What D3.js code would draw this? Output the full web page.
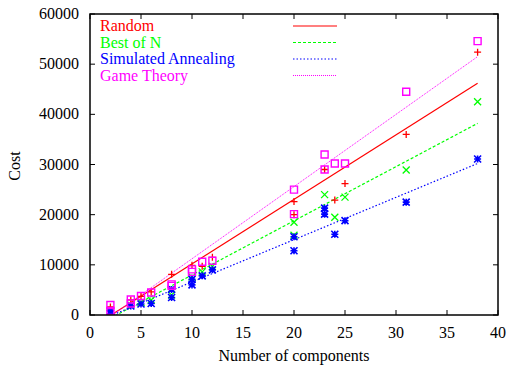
<!DOCTYPE html>
<html>
<head>
<meta charset="utf-8">
<script src="https://cdn.jsdelivr.net/npm/d3@7"></script>
<style>
  body { margin: 0; background: #fff; }
  text { font-family: "Liberation Serif", "DejaVu Serif", serif; }
</style>
</head>
<body>
<svg width="508" height="368"></svg>
<script>
var width = 508;
var height = 368;

// series names + colours (gnuplot defaults)
var seriesNames = ['Random', 'Best of N', 'Simulated Annealing', 'Game Theory'];
var seriesColors = ['#ff0000', '#00ff00', '#0000ff', '#ff00ff'];

// data
var randomX = [2, 4, 5, 6, 8, 10, 11, 12, 20, 20, 23, 24, 25, 31, 38];
var randomY = [1600, 3000, 3700, 4600, 8100, 9900, 9700, 11500, 22600, 20000, 29000, 22900, 26200, 36000, 52400];

var bestX = [2, 4, 5, 6, 8, 10, 11, 12, 20, 20, 23, 24, 25, 31, 38];
var bestY = [400, 2000, 2500, 3000, 4000, 7600, 8600, 9700, 18500, 15900, 24000, 19500, 23500, 28900, 42500];

var annealX = [2, 2, 4, 5, 6, 8, 8, 10, 10, 11, 12, 20, 20, 23, 23, 24, 25, 31, 38];
var annealY = [800, 300, 1800, 2200, 2300, 5100, 3500, 7100, 6000, 7800, 9000, 15600, 12800, 21300, 20100, 16100, 18800, 22500, 31100];

var gameX = [2, 2, 4, 4, 5, 6, 8, 8, 10, 10, 11, 12, 20, 20, 23, 23, 24, 25, 31, 38];
var gameY = [2000, 800, 3100, 2300, 3800, 4500, 6100, 5800, 9100, 8600, 10600, 10800, 25000, 20100, 32000, 29000, 30200, 30200, 44500, 54600];

// fitted lines: value at x=2 and at x=38
var fitX = [2, 38];
var randomFit = [-100, 46200];
var bestFit = [-650, 38200];
var annealFit = [-170, 30200];
var gameFit = [-300, 51500];

var xTicks = [0, 5, 10, 15, 20, 25, 30, 35, 40];
var yTicks = [0, 10000, 20000, 30000, 40000, 50000, 60000];

var series = [
  {x: randomX, y: randomY, fit: randomFit, marker: 'plus', dash: null, lw: 1.2, mw: 1.3},
  {x: bestX, y: bestY, fit: bestFit, marker: 'cross', dash: '3,2', lw: 1.2, mw: 1.3},
  {x: annealX, y: annealY, fit: annealFit, marker: 'star', dash: '1.5,2', lw: 1.2, mw: 1.6},
  {x: gameX, y: gameY, fit: gameFit, marker: 'square', dash: '1,1', lw: 1, mw: 1.4}
];

var plotL = 90, plotR = 498, plotT = 14, plotB = 315;

var x = d3.scaleLinear().domain([0, 40]).range([plotL, plotR]);
var y = d3.scaleLinear().domain([0, 60000]).range([plotB, plotT]);

var svg = d3.select('svg');

svg.append('defs').append('clipPath')
    .attr('id', 'plotclip')
  .append('rect')
    .attr('x', plotL).attr('y', plotT)
    .attr('width', plotR - plotL).attr('height', plotB - plotT);

// ticks (inside, mirrored)
var tickLen = 5;
var ticks = svg.append('g').attr('stroke', '#000').attr('stroke-width', 1);
xTicks.forEach(function(t){
  ticks.append('line').attr('x1', x(t)).attr('x2', x(t)).attr('y1', plotB).attr('y2', plotB - tickLen);
  ticks.append('line').attr('x1', x(t)).attr('x2', x(t)).attr('y1', plotT).attr('y2', plotT + tickLen);
});
yTicks.forEach(function(t){
  ticks.append('line').attr('x1', plotL).attr('x2', plotL + tickLen).attr('y1', y(t)).attr('y2', y(t));
  ticks.append('line').attr('x1', plotR).attr('x2', plotR - tickLen).attr('y1', y(t)).attr('y2', y(t));
});

svg.selectAll('.xlabel')
  .data(xTicks)
  .enter()
  .append('text')
    .attr('x', d => x(d))
    .attr('y', 338)
    .style('text-anchor', 'middle')
    .style('font-size', '16px')
    .text(d => d);

svg.selectAll('.ylabel')
  .data(yTicks)
  .enter()
  .append('text')
    .attr('x', 79)
    .attr('y', d => y(d) + 5)
    .style('text-anchor', 'end')
    .style('font-size', '16px')
    .text(d => d);

svg.append('text')
  .attr('transform', 'translate(20,166) rotate(-90)')
  .style('text-anchor', 'middle')
  .style('font-size', '16px')
  .text('Cost');

svg.append('text')
  .attr('x', (plotL + plotR) / 2)
  .attr('y', 361)
  .style('text-anchor', 'middle')
  .style('font-size', '16px')
  .text('Number of components');

var plot = svg.append('g').attr('clip-path', 'url(#plotclip)');

function markerPath(type, cx, cy){
  var s = 3.5;
  if (type === 'plus')
    return 'M' + (cx - s) + ',' + cy + 'H' + (cx + s) + 'M' + cx + ',' + (cy - s) + 'V' + (cy + s);
  if (type === 'cross')
    return 'M' + (cx - s) + ',' + (cy - s) + 'L' + (cx + s) + ',' + (cy + s) +
           'M' + (cx - s) + ',' + (cy + s) + 'L' + (cx + s) + ',' + (cy - s);
  if (type === 'star')
    return markerPath('plus', cx, cy) + markerPath('cross', cx, cy);
  return 'M' + (cx - s) + ',' + (cy - s) + 'H' + (cx + s) + 'V' + (cy + s) + 'H' + (cx - s) + 'Z';
}

var line = d3.line().x(d => x(d[0])).y(d => y(d[1]));

series.forEach(function(s, i){
  plot.append('path')
    .datum(fitX.map((v, k) => [v, s.fit[k]]))
    .attr('fill', 'none')
    .attr('stroke', seriesColors[i])
    .attr('stroke-width', s.lw)
    .attr('stroke-dasharray', s.dash)
    .attr('d', line);
});

series.forEach(function(s, i){
  plot.selectAll('.pt' + i)
    .data(s.x.map((v, k) => [v, s.y[k]]))
    .enter()
    .append('path')
      .attr('fill', 'none')
      .attr('stroke', seriesColors[i])
      .attr('stroke-width', s.mw)
      .attr('d', d => markerPath(s.marker, x(d[0]), y(d[1])));
});

// legend
var legendY = [26, 42.5, 59, 75.5];
seriesNames.forEach(function(name, i){
  svg.append('text')
    .attr('x', 100)
    .attr('y', legendY[i] + 5)
    .attr('fill', seriesColors[i])
    .style('font-size', '16px')
    .text(name);
  svg.append('line')
    .attr('x1', 293).attr('x2', 337)
    .attr('y1', legendY[i]).attr('y2', legendY[i])
    .attr('stroke', seriesColors[i])
    .attr('stroke-width', series[i].lw)
    .attr('stroke-dasharray', series[i].dash);
});

// frame
svg.append('rect')
  .attr('x', plotL).attr('y', plotT)
  .attr('width', plotR - plotL).attr('height', plotB - plotT)
  .attr('fill', 'none')
  .attr('stroke', '#000')
  .attr('stroke-width', 1.5);
</script>
</body>
</html>
